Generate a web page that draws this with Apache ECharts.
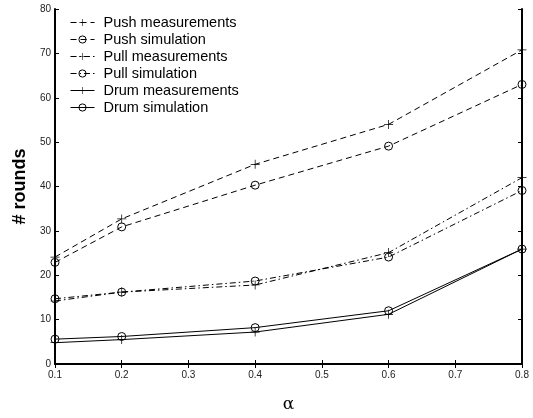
<!DOCTYPE html>
<html><head><meta charset="utf-8">
<script src="https://cdn.jsdelivr.net/npm/echarts@6/dist/echarts.min.js"></script>
<style>html,body{margin:0;padding:0;background:#fff}#c{width:533px;height:418px}</style>
</head><body><div id="c"></div>
<script>
const alphas = [0.1, 0.2, 0.4, 0.6, 0.8];
const pushMeasurements = [24.1, 32.7, 45.0, 54.0, 70.8];
const pushSimulation   = [22.9, 30.9, 40.3, 49.1, 63.0];
const pullMeasurements = [14.2, 16.2, 17.8, 25.1, 42.0];
const pullSimulation   = [14.7, 16.2, 18.7, 24.1, 39.1];
const drumMeasurements = [4.8, 5.5, 7.2, 11.2, 25.9];
const drumSimulation   = [5.6, 6.2, 8.2, 12.0, 25.9];
const seriesNames = ['Push measurements','Push simulation','Pull measurements','Pull simulation','Drum measurements','Drum simulation'];
const yTicks = [0,10,20,30,40,50,60,70,80];

const plus = 'path://M4.6,0H5.4V10H4.6ZM0,4.6H10V5.4H0Z';
const dashed = [6,4];
const dashDot = [6,3,1.5,3];
function mk(name, vals, kind, dash){
  const isMeas = kind === 'm';
  return {
    name, type:'line', data: alphas.map((a,i)=>[a, vals[i]]),
    symbol: isMeas ? plus : 'circle',
    symbolSize: isMeas ? 9 : 8,
    showAllSymbol: true,
    lineStyle:{color:'#000', width:1, type: dash},
    itemStyle: isMeas ? {color:'#000', borderWidth:0} : {color:'rgba(255,255,255,0)', borderColor:'#000', borderWidth:1},
    emphasis:{disabled:true}, animation:false, z: 3
  };
}
const chart = echarts.init(document.getElementById('c'), null, {renderer:'canvas'});
const axisLine = {lineStyle:{color:'#000', width:2}};
const lbl = {color:'#222', fontSize:10, fontFamily:'Liberation Sans, Arial, sans-serif'};
chart.setOption({
  animation:false,
  backgroundColor:'#fff',
  grid:{left:55, right:11, top:9, bottom:41, containLabel:false},
  legend:{
    orient:'vertical', left:65, top:10, itemWidth:24, itemHeight:9, itemGap:2,
    data: seriesNames,
    lineStyle:{width:1},
    itemStyle:{borderWidth:1},
    textStyle:{color:'#000', fontSize:14.5, lineHeight:14, padding:[0,0,0,4], fontFamily:'Liberation Sans, Arial, sans-serif'},
    selectedMode:false
  },
  xAxis:[{
    type:'value', min:0.1, max:0.8, interval:0.1,
    axisLine, axisTick:{inside:true, length:4, lineStyle:{color:'#000'}},
    axisLabel:{...lbl, margin:6, formatter:v=>v.toFixed(1)},
    splitLine:{show:false},
    name:'α', nameLocation:'middle', nameGap:32,
    nameTextStyle:{fontSize:17, color:'#000', fontFamily:'DejaVu Serif, serif'}
  },{
    type:'value', position:'top', min:0.1, max:0.8, interval:0.1,
    axisLine, axisTick:{inside:true, length:4, lineStyle:{color:'#000'}},
    axisLabel:{show:false}, splitLine:{show:false}
  }],
  yAxis:[{
    type:'value', min:yTicks[0], max:yTicks[yTicks.length-1], interval:10,
    axisLine, axisTick:{inside:true, length:4, lineStyle:{color:'#000'}},
    axisLabel:{...lbl, margin:4},
    splitLine:{show:false},
    name:'# rounds', nameLocation:'middle', nameGap:14,
    nameTextStyle:{fontSize:18, fontWeight:'bold', color:'#000', fontFamily:'Liberation Sans, Arial, sans-serif'}
  },{
    type:'value', position:'right', min:0, max:80, interval:10,
    axisLine, axisTick:{inside:true, length:4, lineStyle:{color:'#000'}},
    axisLabel:{show:false}, splitLine:{show:false}
  }],
  series:[
    mk(seriesNames[0], pushMeasurements, 'm', dashed),
    mk(seriesNames[1], pushSimulation, 's', dashed),
    mk(seriesNames[2], pullMeasurements, 'm', dashDot),
    mk(seriesNames[3], pullSimulation, 's', dashDot),
    mk(seriesNames[4], drumMeasurements, 'm', 'solid'),
    mk(seriesNames[5], drumSimulation, 's', 'solid')
  ]
});
</script></body></html>
